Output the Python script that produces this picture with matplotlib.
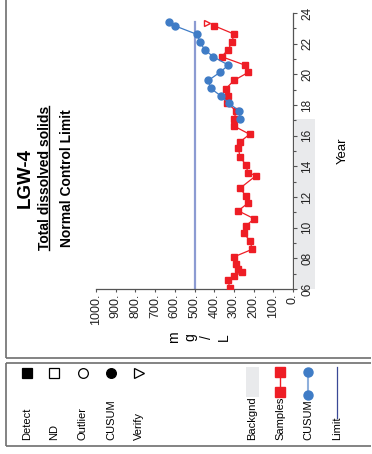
import matplotlib
matplotlib.use('Agg')
from matplotlib import pyplot as plt
from matplotlib.lines import Line2D
from matplotlib.patches import Rectangle
from matplotlib.transforms import blended_transform_factory

plt.rcParams['font.family'] = ['Liberation Sans', 'DejaVu Sans']

W, H = 372, 454

# data (year 06 = 2006)
sample_year = [6.08, 6.59, 6.85, 7.09, 7.33, 7.60, 8.10, 8.59, 9.13, 9.63,
               10.12, 10.58, 11.10, 11.59, 12.07, 12.57, 13.39, 13.59, 14.11, 14.59,
               15.18, 15.60, 16.09, 16.63, 17.09, 17.60, 18.15, 18.59, 19.07, 19.60,
               20.13, 20.60, 21.15, 21.60, 22.09, 22.63, 23.16]
sample_val = [322, 329, 300, 258, 280, 289, 299, 207, 218, 249,
              239, 197, 278, 230, 239, 269, 188, 229, 239, 269,
              277, 269, 220, 300, 300, 287, 337, 328, 340, 300,
              227, 244, 362, 330, 310, 300, 399]
cusum_year = [17.09, 17.60, 18.10, 18.60, 19.09, 19.60, 20.13, 20.60, 21.15, 21.60,
              22.10, 22.60, 23.16, 23.40]
cusum_val = [269, 273, 323, 367, 418, 430, 371, 328, 405, 448,
             472, 486, 599, 628]
verify_year = [23.38]
verify_val = [435]
limit = 500
limit_years = [6.0, 23.4]
backgnd_years = (6.0, 17.1)
value_ticks = [0, 100, 200, 300, 400, 500, 600, 700, 800, 900, 1000]
year_ticks = [6, 8, 10, 12, 14, 16, 18, 20, 22, 24]

RED = '#ee1d25'
BLUE = '#3f7cc6'
GRAY = '#e9eaec'


def fx(x):
    return x / W


def fy(y):
    return 1 - y / H


def seg(x0, y0, x1, y1, **kw):
    fig.add_artist(Line2D([fx(x0), fx(x1)], [fy(y0), fy(y1)],
                          transform=fig.transFigure, **kw))


fig = plt.figure(figsize=(W / 100, H / 100), dpi=100)

# panel frames (right and top run off the page)
frame = dict(color='#6e6e6e', lw=1.2, solid_capstyle='butt')
seg(6, 0, 6, 358, **frame)
seg(6, 358, W - 1, 358, **frame)
seg(6, 363, W - 1, 363, **frame)
seg(6, 363, 6, 446, **frame)
seg(6, 446, W - 1, 446, **frame)

# chart, drawn turned on its side: values run right-to-left, years upward
ax = fig.add_axes([fx(96), fy(289), fx(293 - 96), (289 - 13) / H])
ax.set_xlim(1000, 0)
ax.set_ylim(6, 24)
ax.spines['top'].set_visible(False)
ax.spines['left'].set_visible(False)
for s in ('right', 'bottom'):
    ax.spines[s].set_color('#555555')
    ax.spines[s].set_linewidth(0.9)

ax.set_xticks(value_ticks)
ax.set_xticklabels(['%d.' % v for v in value_ticks], rotation=90, fontsize=9,
                   color='#222222')
ax.yaxis.tick_right()
ax.set_yticks(year_ticks)
ax.set_yticks(range(7, 24, 2), minor=True)
ax.set_yticklabels(['%02d' % y for y in year_ticks], rotation=90, va='center',
                   fontsize=8.5, color='#222222')
ax.tick_params(axis='x', direction='out', length=2.5, width=0.8, pad=1,
               color='#555555')
ax.tick_params(axis='y', which='major', direction='out', length=3, width=0.8,
               pad=3, color='#555555')
ax.tick_params(axis='y', which='minor', direction='out', length=2.5, width=0.8,
               color='#555555')

# background period band sits behind the year labels
trans = blended_transform_factory(ax.transAxes, ax.transData)
ax.add_patch(Rectangle((1.01, backgnd_years[0]), 0.1,
                       backgnd_years[1] - backgnd_years[0], transform=trans,
                       facecolor=GRAY, edgecolor='none', clip_on=False,
                       zorder=0))

ax.plot([limit, limit], limit_years, color='#8c9bd2', lw=1.6, zorder=2)
ax.plot(sample_val, sample_year, color=RED, lw=0.9, marker='s', ms=5,
        mec=RED, mfc=RED, zorder=3)
ax.plot(cusum_val, cusum_year, color=BLUE, lw=0.9, marker='o', ms=5,
        mec=BLUE, mfc=BLUE, zorder=4)
ax.plot(verify_val, verify_year, ls='none', marker='>', ms=5, mfc='white',
        mec=RED, mew=1, zorder=5)

# titles
fig.text(fx(25), fy(178), 'LGW-4', rotation=90, ha='center', va='center',
         fontsize=13.5, fontweight='bold')
t_sub = fig.text(fx(45), fy(178), 'Total dissolved solids', rotation=90,
                 ha='center', va='center', fontsize=10, fontweight='bold')
fig.text(fx(67), fy(178), 'Normal Control Limit', rotation=90, ha='center',
         va='center', fontsize=10, fontweight='bold')
fig.text(fx(343), fy(151), 'Year', rotation=90, ha='center', va='center',
         fontsize=9.5)
fig.text(fx(199), fy(337), 'm\ng\n/\nL', rotation=90, ha='center',
         va='center', fontsize=10, linespacing=1.25)

fig.canvas.draw()
bb = t_sub.get_window_extent()
ux = (bb.x1 - 3) / W
fig.add_artist(Line2D([ux, ux], [bb.y0 / H, bb.y1 / H], color='black',
                      lw=1.0, transform=fig.transFigure))

# legend panel
mark_y = 373
text_y = 440
sym_items = [('Detect', 27, 's', 'black', 'black'),
             ('ND', 54, 's', 'white', 'black'),
             ('Outlier', 83, 'o', 'white', 'black'),
             ('CUSUM', 111, 'o', 'black', 'black'),
             ('Verify', 139, '>', 'white', 'black')]
for label, x, m, fc, ec in sym_items:
    fig.add_artist(Line2D([fx(x)], [fy(mark_y)], marker=m, ms=7, mfc=fc,
                          mec=ec, mew=0.9, ls='none',
                          transform=fig.transFigure))
    fig.text(fx(x), fy(text_y), label, rotation=90, rotation_mode='anchor',
             ha='left', va='center', fontsize=8)

fig.add_artist(Rectangle((fx(246), fy(397)), fx(13), 30 / H,
                         transform=fig.transFigure, facecolor=GRAY,
                         edgecolor='none'))
seg(280, 372, 280, 392, color=RED, lw=1, marker='s', ms=6.5, mfc=RED,
    mec=RED)
seg(308, 372, 308, 395, color='#8fb0dc', lw=1.5)
seg(308, 372, 308, 395, ls='none', marker='o', ms=6.5, mfc=BLUE, mec=BLUE)
seg(337, 367, 337, 418, color='#3a4896', lw=0.9)
for label, x in [('Backgnd', 252), ('Samples', 280), ('CUSUM', 308),
                 ('Limit', 337)]:
    fig.text(fx(x), fy(text_y), label, rotation=90, rotation_mode='anchor',
             ha='left', va='center', fontsize=8)

fig.savefig('out.png', dpi=100)
